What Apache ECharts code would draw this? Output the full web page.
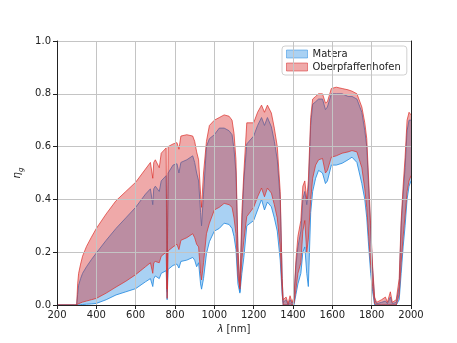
<!DOCTYPE html>
<html>
<head>
<meta charset="utf-8">
<script src="https://cdn.jsdelivr.net/npm/echarts@6/dist/echarts.min.js"></script>
<style>
  html, body { margin: 0; padding: 0; background: #fff; }
  #main { width: 457px; height: 343px; }
</style>
</head>
<body>
<div id="main"></div>
<script>
// wavelengths [nm]
const wavelength = [200, 290, 300, 305, 310, 320, 330, 350, 375, 400, 450, 500, 550, 600, 650, 675, 687, 692, 700, 720, 730, 755, 760, 765, 790, 810, 820, 830, 860, 890, 900, 910, 920, 930, 935, 945, 960, 975, 1000, 1025, 1050, 1075, 1090, 1100, 1110, 1120, 1130, 1140, 1150, 1165, 1200, 1220, 1240, 1255, 1270, 1290, 1305, 1320, 1335, 1345, 1350, 1365, 1375, 1385, 1395, 1405, 1415, 1425, 1440, 1450, 1460, 1470, 1478, 1490, 1500, 1515, 1530, 1550, 1565, 1575, 1595, 1620, 1650, 1680, 1700, 1725, 1750, 1765, 1775, 1785, 1795, 1805, 1815, 1825, 1850, 1870, 1880, 1895, 1905, 1925, 1940, 1950, 1960, 1970, 1980, 1990, 2000];
// Matera band (lower / upper)
const materaLow = [0, 0, 0, 0, 0, 0.001, 0.002, 0.003, 0.004, 0.006, 0.02, 0.038, 0.05, 0.062, 0.088, 0.1, 0.07, 0.1, 0.11, 0.1, 0.12, 0.13, 0.02, 0.135, 0.15, 0.155, 0.14, 0.165, 0.17, 0.18, 0.17, 0.145, 0.16, 0.08, 0.06, 0.1, 0.195, 0.24, 0.28, 0.29, 0.31, 0.305, 0.29, 0.26, 0.21, 0.08, 0.045, 0.12, 0.18, 0.3, 0.32, 0.36, 0.4, 0.36, 0.39, 0.372, 0.33, 0.28, 0.17, 0.04, 0, 0, 0, 0, 0, 0, 0.04, 0.08, 0.12, 0.2, 0.22, 0.12, 0.07, 0.35, 0.43, 0.48, 0.51, 0.5, 0.46, 0.47, 0.53, 0.53, 0.537, 0.55, 0.56, 0.54, 0.46, 0.4, 0.33, 0.22, 0.12, 0.05, 0, 0, 0, 0, 0, 0, 0, 0, 0.02, 0.12, 0.22, 0.3, 0.4, 0.45, 0.47];
const materaHigh = [0, 0, 0, 0.04, 0.075, 0.1, 0.12, 0.145, 0.172, 0.197, 0.245, 0.29, 0.33, 0.37, 0.42, 0.44, 0.38, 0.44, 0.45, 0.43, 0.47, 0.49, 0.05, 0.5, 0.53, 0.535, 0.5, 0.54, 0.55, 0.565, 0.54, 0.5, 0.47, 0.35, 0.3, 0.42, 0.6, 0.63, 0.645, 0.67, 0.67, 0.66, 0.645, 0.59, 0.5, 0.2, 0.05, 0.3, 0.47, 0.61, 0.64, 0.68, 0.71, 0.68, 0.71, 0.675, 0.62, 0.55, 0.4, 0.1, 0.01, 0.02, 0, 0.02, 0.005, 0.02, 0.15, 0.22, 0.28, 0.4, 0.43, 0.38, 0.43, 0.68, 0.76, 0.77, 0.78, 0.78, 0.74, 0.75, 0.8, 0.8, 0.8, 0.79, 0.79, 0.78, 0.73, 0.66, 0.6, 0.44, 0.28, 0.13, 0.02, 0.005, 0.01, 0.015, 0.005, 0.03, 0.005, 0.01, 0.07, 0.3, 0.42, 0.52, 0.66, 0.7, 0.7];
// Oberpfaffenhofen band (lower / upper)
const oberLow = [0, 0, 0, 0.003, 0.005, 0.008, 0.011, 0.015, 0.02, 0.025, 0.045, 0.068, 0.09, 0.115, 0.145, 0.16, 0.12, 0.16, 0.165, 0.16, 0.185, 0.2, 0.025, 0.205, 0.22, 0.23, 0.21, 0.245, 0.255, 0.27, 0.255, 0.23, 0.22, 0.12, 0.095, 0.16, 0.27, 0.31, 0.36, 0.37, 0.385, 0.38, 0.37, 0.33, 0.27, 0.11, 0.06, 0.17, 0.245, 0.335, 0.37, 0.41, 0.443, 0.41, 0.443, 0.424, 0.38, 0.33, 0.22, 0.05, 0, 0, 0, 0.005, 0, 0.005, 0.06, 0.12, 0.16, 0.28, 0.32, 0.2, 0.25, 0.4, 0.48, 0.53, 0.55, 0.555, 0.5, 0.51, 0.56, 0.565, 0.575, 0.58, 0.585, 0.58, 0.52, 0.44, 0.37, 0.26, 0.15, 0.07, 0.005, 0, 0, 0, 0, 0, 0, 0, 0.04, 0.16, 0.26, 0.34, 0.43, 0.47, 0.49];
const oberHigh = [0, 0, 0, 0.08, 0.12, 0.155, 0.185, 0.222, 0.257, 0.29, 0.345, 0.395, 0.43, 0.465, 0.515, 0.54, 0.48, 0.54, 0.55, 0.52, 0.575, 0.595, 0.06, 0.6, 0.61, 0.615, 0.59, 0.64, 0.645, 0.64, 0.62, 0.58, 0.55, 0.42, 0.37, 0.5, 0.62, 0.68, 0.7, 0.71, 0.72, 0.715, 0.7, 0.65, 0.55, 0.22, 0.07, 0.35, 0.5, 0.69, 0.69, 0.73, 0.757, 0.73, 0.757, 0.727, 0.67, 0.6, 0.43, 0.1, 0.02, 0.03, 0.005, 0.035, 0.01, 0.03, 0.17, 0.26, 0.32, 0.45, 0.47, 0.4, 0.47, 0.71, 0.78, 0.79, 0.8, 0.8, 0.765, 0.77, 0.82, 0.825, 0.82, 0.815, 0.81, 0.8, 0.75, 0.69, 0.63, 0.47, 0.3, 0.145, 0.03, 0.01, 0.02, 0.03, 0.01, 0.05, 0.01, 0.02, 0.1, 0.32, 0.45, 0.56, 0.7, 0.73, 0.72];

const chart = echarts.init(document.getElementById('main'));

const FONT = 'DejaVu Sans';
const blueLine = 'rgba(40,140,225,0.85)';
const blueFill = 'rgba(40,140,225,0.4)';
const redLine = 'rgba(220,45,40,0.7)';
const redFill = 'rgba(214,39,40,0.4)';

// fill_between: one polygon through the axis scales, plus both edge lines
function band(name, low, high, lineColor, fillColor) {
  return {
    name: name, type: 'custom',
    data: wavelength.map((w, i) => [w, low[i], high[i]]),
    encode: { x: 0, y: [1, 2] },
    itemStyle: { color: fillColor },
    renderItem: (params, api) => {
      if (params.dataIndex !== 0) return null;
      const lowPts = wavelength.map((w, i) => api.coord([w, low[i]]));
      const highPts = wavelength.map((w, i) => api.coord([w, high[i]]));
      const poly = highPts.concat(lowPts.slice().reverse());
      return {
        type: 'group',
        children: [
          { type: 'polygon', shape: { points: poly }, style: { fill: fillColor, stroke: null } },
          { type: 'polyline', shape: { points: highPts }, style: { fill: null, stroke: lineColor, lineWidth: 1 } },
          { type: 'polyline', shape: { points: lowPts }, style: { fill: null, stroke: lineColor, lineWidth: 1 } }
        ]
      };
    }
  };
}

const option = {
  animation: false,
  textStyle: { fontFamily: FONT },
  grid: { left: 57, top: 41, width: 354, height: 264 },
  legend: {
    orient: 'vertical',
    left: 282, top: 46,
    icon: 'rect',
    itemWidth: 21, itemHeight: 8, itemGap: 3,
    padding: [3, 6, 3, 4],
    backgroundColor: 'rgba(255,255,255,0.8)',
    borderColor: '#d0d0d0', borderWidth: 1, borderRadius: 3,
    textStyle: { fontFamily: FONT, fontSize: 10, color: '#222' },
    data: [
      { name: 'Matera', itemStyle: { color: blueFill, borderColor: 'rgba(40,140,225,0.5)', borderWidth: 1 } },
      { name: 'Oberpfaffenhofen', itemStyle: { color: redFill, borderColor: 'rgba(214,39,40,0.5)', borderWidth: 1 } }
    ]
  },
  xAxis: [{
    type: 'value', min: 200, max: 2000, interval: 200, z: 5,
    name: '{i|λ} [nm]', nameLocation: 'middle', nameGap: 19,
    nameTextStyle: { fontFamily: FONT, fontSize: 10, color: '#222', rich: { i: { fontStyle: 'italic', fontFamily: FONT, fontSize: 10 } } },
    axisLine: { show: true, onZero: false, lineStyle: { color: '#222', width: 1 } },
    axisTick: { show: true, length: 4, lineStyle: { color: '#222' } },
    axisLabel: { fontFamily: FONT, fontSize: 10, color: '#222', margin: 5, formatter: v => String(v) },
    splitLine: { show: true, lineStyle: { color: '#c4c4c4', width: 1 } }
  }, {
    type: 'value', position: 'top', min: 200, max: 2000, z: 5,
    axisLine: { show: true, lineStyle: { color: '#222', width: 1 } },
    axisTick: { show: false }, axisLabel: { show: false }, splitLine: { show: false }
  }],
  yAxis: [{
    type: 'value', min: 0, max: 1, interval: 0.2, z: 5,
    name: '{i|η}{s|g}', nameLocation: 'middle', nameGap: 28, nameRotate: 90,
    nameTextStyle: { fontFamily: FONT, fontSize: 10, color: '#222', rich: { i: { fontStyle: 'italic', fontFamily: FONT, fontSize: 10 }, s: { fontStyle: 'italic', fontFamily: FONT, fontSize: 7, padding: [6, 0, 0, 0] } } },
    axisLine: { show: true, onZero: false, lineStyle: { color: '#222', width: 1 } },
    axisTick: { show: true, length: 4, lineStyle: { color: '#222' } },
    axisLabel: { fontFamily: FONT, fontSize: 10, color: '#222', margin: 6, formatter: v => v.toFixed(1) },
    splitLine: { show: true, lineStyle: { color: '#c4c4c4', width: 1 } }
  }, {
    type: 'value', position: 'right', min: 0, max: 1, z: 5,
    axisLine: { show: true, lineStyle: { color: '#222', width: 1 } },
    axisTick: { show: false }, axisLabel: { show: false }, splitLine: { show: false }
  }],
  series: [
    band('Matera', materaLow, materaHigh, blueLine, blueFill),
    band('Oberpfaffenhofen', oberLow, oberHigh, redLine, redFill)
  ]
};

chart.setOption(option);
</script>
</body>
</html>
